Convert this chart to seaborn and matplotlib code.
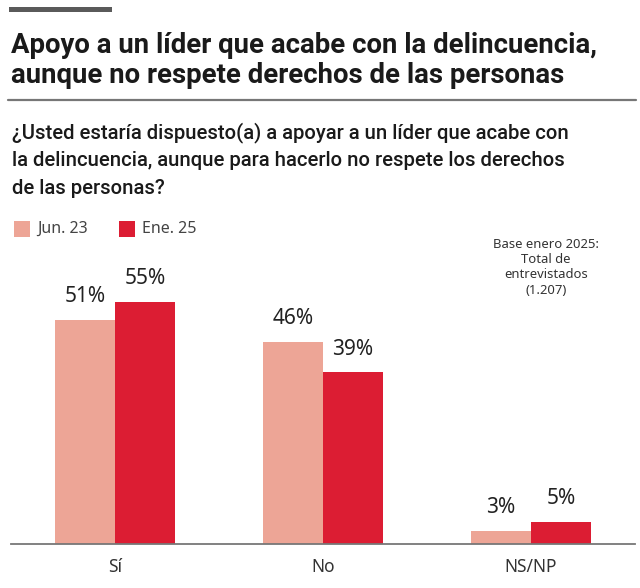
import matplotlib
matplotlib.use("Agg")
import matplotlib.pyplot as plt
import seaborn as sns
import pandas as pd
from matplotlib.patches import Rectangle
from matplotlib.lines import Line2D

categorias = ["Sí", "No", "NS/NP"]
series = ["Jun. 23", "Ene. 25"]
valores_jun23 = [51, 46, 3]
valores_ene25 = [55, 39, 5]
colores = ["#EDA596", "#DC1D33"]

titulo = ["Apoyo a un líder que acabe con la delincuencia,",
          "aunque no respete derechos de las personas"]
pregunta = ["¿Usted estaría dispuesto(a) a apoyar a un líder que acabe con",
            "la delincuencia, aunque para hacerlo no respete los derechos",
            "de las personas?"]
nota = "Base enero 2025:\nTotal de\nentrevistados\n(1.207)"

df = pd.DataFrame({
    "categoria": categorias * 2,
    "serie": [series[0]] * 3 + [series[1]] * 3,
    "valor": valores_jun23 + valores_ene25,
})

sns.set_theme(style="white")
plt.rcParams["font.family"] = ["Noto Sans", "DejaVu Sans"]

W, H = 640, 588
fig = plt.figure(figsize=(W / 100, H / 100), dpi=100)
fig.patch.set_facecolor("white")

def fx(x):
    return x / W

def fy(y):
    return 1 - y / H

# top decorative bar
fig.add_artist(Rectangle((fx(9), fy(12)), fx(112) - fx(9), fy(7) - fy(12),
                         transform=fig.transFigure, color="#5a5a5a", lw=0))
# title
for i, line in enumerate(titulo):
    fig.text(fx(11), fy(53 + 30 * i), line, fontsize=19.8, fontweight="bold",
             family=["Roboto", "DejaVu Sans"],
             color="#1a1a1a", va="baseline", ha="left")
# rule
fig.add_artist(Line2D([fx(8), fx(636)], [fy(100), fy(100)],
                      transform=fig.transFigure, color="#777777", lw=1.6))
# question
for i, line in enumerate(pregunta):
    fig.text(fx(12), fy(138 + 28 * i), line, fontsize=14.6, fontweight="medium",
             family=["Roboto", "DejaVu Sans"],
             color="#1a1a1a", va="baseline", ha="left")

# legend
for i, (s, c) in enumerate(zip(series, colores)):
    x0 = [14, 119][i]
    fig.add_artist(Rectangle((fx(x0), fy(237)), fx(16), 16 / H,
                             transform=fig.transFigure, color=c, lw=0))
    fig.text(fx(x0 + 23), fy(229), s, fontsize=11.5, color="#444444",
             va="center", ha="left")

# note
fig.text(fx(546), fy(238), nota, fontsize=9.4, color="#333333", ha="center",
         va="top", linespacing=1.22)

ax = fig.add_axes([fx(11), (H - 544) / H, 624 / W, 264 / H])
sns.barplot(data=df, x="categoria", y="valor", hue="serie", palette=colores,
            width=0.577, gap=0, ax=ax, legend=False, saturation=1,
            edgecolor="none", linewidth=0)
ax.set_xlim(-0.5, 2.5)
ax.set_ylim(0, 60)
for cont in ax.containers:
    ax.bar_label(cont, fmt="%d%%", padding=9, fontsize=15, color="#222222")

for s in ["top", "left", "right"]:
    ax.spines[s].set_visible(False)
ax.spines["bottom"].set_color("#777777")
ax.spines["bottom"].set_linewidth(1.3)
ax.set_yticks([])
ax.set_xlabel("")
ax.set_ylabel("")
ax.set_xticks(range(len(categorias)))
ax.set_xticklabels(categorias)
ax.tick_params(axis="x", which="major", length=0, pad=10, labelsize=12.5,
               labelcolor="#333333")
ax.set_xticks([-0.5, 0.5, 1.5, 2.5], minor=True)
ax.tick_params(axis="x", which="minor", length=7, width=1.3, color="#777777",
               direction="out")
ax.set_facecolor("white")

fig.savefig("out.png", dpi=100, facecolor="white")
